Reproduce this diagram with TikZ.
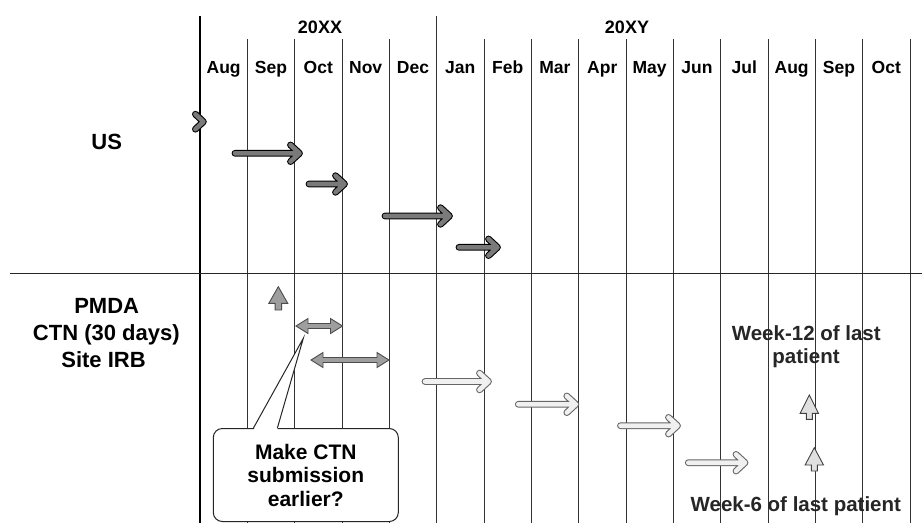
\documentclass[tikz,border=0pt]{standalone}
\usepackage{fontspec}
\setmainfont{Liberation Sans}
\usetikzlibrary{calc}
\tikzset{
  gridline/.style={draw=black!80, line width=0.9pt},
  month/.style={font=\bfseries\fontsize{17.5}{20}\selectfont, anchor=base, inner sep=0pt},
  lbl/.style={font=\bfseries\fontsize{22}{24}\selectfont, anchor=base, inner sep=0pt},
  wk/.style={font=\bfseries\fontsize{20.5}{24}\selectfont, anchor=base, inner sep=0pt, text=black!85},
  darrow/.style={draw=black!52, line width=4.6pt, line cap=round, line join=round,
    preaction={draw=black, line width=6.8pt, line cap=round, line join=round}},
  larrow/.style={draw=black!6, line width=4.6pt, line cap=round, line join=round,
    preaction={draw=black!60, line width=6.8pt, line cap=round, line join=round}},
  blk/.style={fill=black!38, draw=black!70, line width=0.9pt, line join=miter},
  callbox/.style={draw=black!85, line width=1pt, fill=white, rounded corners=9pt,
    minimum width=185pt, minimum height=93pt, align=center, inner sep=0pt,
    font=\bfseries\fontsize{21}{23.5}\selectfont},
}
\begin{document}
\begin{tikzpicture}[x=1pt,y=-1pt]
\useasboundingbox (0,0) rectangle (922,523);
\fill[white] (0,0) rectangle (922,523);
% grid
\foreach \i in {1,2,3,4,6,7,8,9,10,11,12,13,14,15}{
  \draw[gridline] ({200+47.33*\i},39) -- ({200+47.33*\i},523);
}
\draw[gridline] ({200+47.33*5},16) -- ({200+47.33*5},523);
\draw[black, line width=2pt] (200,16) -- (200,523);
\draw[black!85, line width=1pt] (10,273) -- (922,273);
% years
\node[month, font=\bfseries\fontsize{18}{20}\selectfont] (yxx) at (320,33.3) {20XX};
\node[month, font=\bfseries\fontsize{18}{20}\selectfont] (yxy) at (627,33.3) {20XY};
% months
\foreach \m [count=\k from 0] in {Aug,Sep,Oct,Nov,Dec,Jan,Feb,Mar,Apr,May,Jun,Jul,Aug,Sep,Oct}{
  \node[month] (m\k) at ({200+47.33*(\k+0.5)},73.5) {\m};
}
% row labels
\node[lbl] (us) at (106.7,149.2) {US};
\node[lbl] (pmda) at (106.7,313.3) {PMDA};
\node[lbl] (ctn) at (106.3,340) {CTN (30 days)};
\node[lbl] (irb) at (103.5,367.3) {Site IRB};
% US arrows
\coordinate (u0e) at (203.4,121.7);
\draw[darrow] (u0e) ++(-8,-7.5) -- (u0e) -- ++(-8,7.5);
\coordinate (u1s) at (235,153.3); \coordinate (u1e) at (299.5,153.3);
\draw[darrow] (u1s) -- (u1e) ++(-9,-8.3) -- (u1e) -- ++(-9,8.3);
\coordinate (u2s) at (309,184); \coordinate (u2e) at (344.5,184);
\draw[darrow] (u2s) -- (u2e) ++(-9,-8.3) -- (u2e) -- ++(-9,8.3);
\coordinate (u3s) at (385,216); \coordinate (u3e) at (449.5,216);
\draw[darrow] (u3s) -- (u3e) ++(-9,-8.3) -- (u3e) -- ++(-9,8.3);
\coordinate (u4s) at (459,247.3); \coordinate (u4e) at (497.5,247.3);
\draw[darrow] (u4s) -- (u4e) ++(-9,-8.3) -- (u4e) -- ++(-9,8.3);
% PMDA block arrows
\coordinate (pu) at (278.3,286.7);
\filldraw[blk] (pu) -- ++(9.5,16.7) -- ++(-6.25,0) -- ++(0,6.6) -- ++(-6.5,0) -- ++(0,-6.6) -- ++(-6.25,0) -- cycle;
\coordinate (d1l) at (296,326); \coordinate (d1r) at (342.5,326);
\filldraw[blk] (d1l) -- ++(12,-7.5) -- ++(0,5) -- ($(d1r)+(-12,-2.5)$) -- ++(0,-5) -- (d1r) -- ++(-12,7.5) -- ++(0,-5) -- ($(d1l)+(12,2.5)$) -- ++(0,5) -- cycle;
\coordinate (d2l) at (311,360); \coordinate (d2r) at (389,360);
\filldraw[blk] (d2l) -- ++(12,-7.5) -- ++(0,5) -- ($(d2r)+(-12,-2.5)$) -- ++(0,-5) -- (d2r) -- ++(-12,7.5) -- ++(0,-5) -- ($(d2l)+(12,2.5)$) -- ++(0,5) -- cycle;
% light arrows
\coordinate (l1s) at (425,381.5); \coordinate (l1e) at (488.5,381.5);
\draw[larrow] (l1s) -- (l1e) ++(-9,-8.3) -- (l1e) -- ++(-9,8.3);
\coordinate (l2s) at (518.3,404.3); \coordinate (l2e) at (575.8,404.3);
\draw[larrow] (l2s) -- (l2e) ++(-9,-8.3) -- (l2e) -- ++(-9,8.3);
\coordinate (l3s) at (620.5,425.7); \coordinate (l3e) at (677.5,425.7);
\draw[larrow] (l3s) -- (l3e) ++(-9,-8.3) -- (l3e) -- ++(-9,8.3);
\coordinate (l4s) at (688.3,462.7); \coordinate (l4e) at (745,462.7);
\draw[larrow] (l4s) -- (l4e) ++(-9,-8.3) -- (l4e) -- ++(-9,8.3);
% week up arrows
\coordinate (w12) at (809.3,395);
\filldraw[blk, fill=black!12, draw=black!75] (w12) -- ++(9.2,18.3) -- ++(-6.2,0) -- ++(0,6) -- ++(-6,0) -- ++(0,-6) -- ++(-6.2,0) -- cycle;
\coordinate (w6) at (814.3,447.7);
\filldraw[blk, fill=black!12, draw=black!75] (w6) -- ++(9.2,17.3) -- ++(-6.2,0) -- ++(0,6) -- ++(-6,0) -- ++(0,-6) -- ++(-6.2,0) -- cycle;
\node[wk] (wk12a) at (806.3,340.7) {Week-12 of last};
\node[wk] (wk12b) at (806,363.3) {patient};
\node[wk] (wk6) at (795.8,511.7) {Week-6 of last patient};
% callout
\node[callbox] (call) at (305.8,475) {Make CTN\\submission\\earlier?};
\coordinate (ctip) at (303.3,338.3);
\coordinate (cb1) at (253.3,428.3);
\coordinate (cb2) at (277.3,428.3);
\fill[white] (ctip) -- ($(cb1)+(0,2)$) -- ($(cb2)+(0,2)$) -- cycle;
\draw[black!85, line width=1pt, line join=miter] (cb1) -- (ctip) -- (cb2);
\end{tikzpicture}
\end{document}
